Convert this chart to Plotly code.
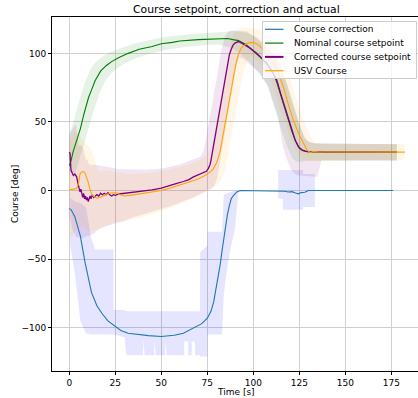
import numpy as np
import plotly.graph_objects as go

# ---------------- data ----------------
blue_t = [0, 1, 3, 6, 8.5, 10, 12, 15, 18, 21, 25, 28, 32, 37, 43, 50, 57, 62, 65, 68,
          72, 75, 77, 78.5, 80, 81, 82, 83, 84, 85, 86, 87, 88, 89, 90, 91, 93, 100, 110, 115,
          117, 119, 121, 123, 124.5, 126, 128, 130, 140, 160, 176]
blue_y = [-13, -14, -19, -33, -52, -62, -74, -84, -90, -95, -99, -102, -104, -105, -105.7, -106.4, -105.5, -104, -102, -100,
          -97, -93, -88, -81, -70, -62, -54, -44, -34, -25, -17, -11, -6, -4, -2.5, -1, 0, 0, 0, 0,
          -0.5, -1, -0.8, -1.8, -2.4, -1.5, -1.2, 0, 0, 0, 0]

green_t = [0, 1, 2, 4, 6, 8, 10.5, 12, 14, 17, 20, 23, 27, 32, 38, 45, 50, 56, 60, 70,
           82, 86, 89, 92, 96, 100, 104, 108, 111, 113, 115, 117, 119, 121, 123, 125, 127, 130, 140, 160, 178]
green_y = [18, 22, 28, 37, 45, 56, 68, 73, 80, 87, 91, 94, 97, 100, 103, 105, 107, 108, 109, 110,
           111, 110.8, 110, 109.3, 106.5, 102, 97, 91, 85, 78, 69, 60, 51, 43, 36, 31, 29, 28.3, 28, 28, 28]

purple_t = [0, 0.4, 0.9, 1.5, 2.2, 3, 4, 4.6, 5.2, 5.8, 6.3, 6.8, 7.3, 7.8, 8.3, 8.8, 9.3, 9.8, 10.3, 10.8,
            11.3, 11.8, 12.5, 13.2, 14, 15, 16, 17, 18, 19, 20, 21, 22, 23, 24, 25, 27, 30, 33, 36,
            40, 45, 50, 55, 58, 62, 65, 67.5, 70, 72, 74.5, 75.5, 76.5, 77, 77.5, 78, 78.5, 79, 79.5, 80,
            80.5, 81, 81.5, 82, 82.5, 83, 83.5, 84, 84.5, 85, 85.5, 86, 86.5, 87, 88, 89, 90, 91, 92, 93,
            95, 98, 101.8, 104, 107.3, 110, 112.7, 115, 118.2, 120.5, 122.7, 124.5, 126.3, 129, 132, 140, 160, 178]
purple_y = [28, 27, 15, 13, 11, 12, 10, 6, 2, -1, 1, -3, -5, -2, -6, -4, -7, -5, -8, -6,
            -4, -6, -3, -5, -4, -3, -4, -2, -3, -2, -3, -1.5, -3, -4, -3, -3.5, -2.5, -2, -2, -1,
            -0.5, 0.5, 1.7, 3.5, 5, 6.6, 8, 10, 11.5, 12.5, 14, 16, 19, 22, 26, 29, 33, 38, 41, 45,
            48, 51, 55, 60, 63, 68, 71, 76, 80, 85, 88, 92, 95, 99, 103, 106, 107.5, 108.3, 108.6, 108,
            106.5, 104, 100, 97, 92.9, 87.5, 80.7, 70, 56.4, 46, 37, 32, 29.7, 28.4, 28.3, 28, 28, 27.8]

orange_t = [0, 2, 4, 5, 5.8, 6.7, 7.6, 8.5, 9.4, 10.3, 11.2, 12, 13, 14, 15, 16.5, 18, 20, 22, 24,
            25.5, 27.5, 30, 33, 38, 45, 50, 55, 60, 65, 70, 73, 75.5, 77, 78.3, 80, 81.9, 83.5, 85.5, 87.5,
            89.1, 90.5, 91.8, 93.5, 95.5, 97, 99.1, 101, 103, 105.4, 108, 110.9, 113.5, 116.3, 119, 121.7, 124.5, 127.2, 129, 130.8,
            132.6, 135, 150, 165, 182.4]
orange_y = [0.5, 1, 1.5, 5, 12, 13.5, 13.9, 13, 10, 6, 1, -2, -4, -5, -5.6, -5, -4, -3, -2, -1.5,
            -1.5, -3, -4, -3.5, -2.5, -1.5, 0, 1.8, 4, 6, 8.5, 10.5, 12.7, 14, 16, 20, 28, 40, 54, 70,
            82, 92, 99, 104, 106.2, 107.5, 108, 107.5, 106, 102.6, 98, 92.9, 86, 75.8, 63, 51.5, 42, 34.5, 30, 27.7,
            28.4, 28.2, 28, 28, 28]

# spread (uncertainty band) of the correction series
blue_band_t = [0.5, 3, 6, 9, 12, 14, 24, 24.1, 30, 31, 40, 40.4, 40.9, 46, 46.4, 46.9, 52, 52.4, 52.9, 62.4,
               62.5, 64.6, 64.7, 66.5, 66.6, 68.3, 68.4, 71, 71.1, 75, 75.1, 83, 84, 86, 88, 90, 92]
blue_band_lo = [-40, -60, -95, -104, -105, -105, -105, -105, -107, -120, -120, -109, -120, -120, -110, -120, -120, -110, -120, -120,
                -110, -110, -120, -120, -110, -110, -120, -120, -121, -121, -105, -105, -75, -55, -40, -28, 0]
blue_band_hi = [-5, -8, -9, -12, -35, -43, -43, -87, -87, -88, -88, -88, -88, -88, -88, -88, -88, -88, -88, -88,
                -88, -88, -88, -88, -88, -88, -88, -88, -45, -40, -30, -30, -3, -2, -1, 0, 0]
blue_band2_t = [113.5, 116, 116.1, 127, 127.1, 133.5]
blue_band2_lo = [-6, -6, -14, -14, -12, -12]
blue_band2_hi = [15, 15, 15, 15, 12, 12]

# spreads for the other series
green_sp_t = [0, 10, 30, 80, 92, 110, 125, 130, 178]
green_sp_lo = [5, 6, 4, 4, 6, 8, 8, 6, 6]
green_sp_hi = [5, 6, 4, 4, 6, 8, 8, 6, 6]
purple_sp_t = [0, 3, 10, 25, 50, 74, 80, 88, 95, 110, 114, 116, 135, 137, 178]
purple_sp_lo = [30, 30, 25, 20, 14, 12, 12, 10, 8, 8, 8, 18, 18, 6, 6]
purple_sp_hi = [14, 20, 22, 18, 13, 10, 10, 8, 8, 8, 8, 6, 6, 6, 6]
orange_sp_t = [0, 3, 10, 25, 50, 75, 90, 100, 130, 182.4]
orange_sp_lo = [38, 30, 25, 20, 14, 10, 10, 8, 6, 6]
orange_sp_hi = [38, 30, 18, 15, 13, 10, 12, 10, 6, 6]

x_ticks = [0, 25, 50, 75, 100, 125, 150, 175]
y_ticks = [-100, -50, 0, 50, 100]
names = ["Course correction", "Nominal course setpoint", "Corrected course setpoint", "USV Course"]
colors = ["#1f77b4", "#008000", "#800080", "#FFA500"]

# ---------------- helpers ----------------
def envelope(t, y, delta, sp_t, sp_lo, sp_hi, step=0.25):
    t = np.asarray(t, float)
    y = np.asarray(y, float)
    g = np.arange(t[0], t[-1] + 1e-9, step)
    base = np.interp(g, t, y)
    k = int(round(delta / step))
    n = len(g)
    hi = np.array([base[max(0, i - k):min(n, i + k + 1)].max() for i in range(n)])
    lo = np.array([base[max(0, i - k):min(n, i + k + 1)].min() for i in range(n)])
    return g, lo - np.interp(g, sp_t, sp_lo), hi + np.interp(g, sp_t, sp_hi)


def band_trace(x, lo, hi, color):
    x = np.asarray(x, float)
    lo = np.asarray(lo, float)
    hi = np.asarray(hi, float)
    return go.Scatter(x=np.concatenate([x, x[::-1]]), y=np.concatenate([hi, lo[::-1]]),
                      fill="toself", fillcolor=color, line=dict(width=0), mode="lines",
                      hoverinfo="skip", showlegend=False)


fig = go.Figure()

# bands
fig.add_trace(band_trace(blue_band_t, blue_band_lo, blue_band_hi, "rgba(0,0,255,0.1)"))
fig.add_trace(band_trace(blue_band2_t, blue_band2_lo, blue_band2_hi, "rgba(0,0,255,0.1)"))
g, lo, hi = envelope(green_t, green_y, 3.5, green_sp_t, green_sp_lo, green_sp_hi)
fig.add_trace(band_trace(g, lo, hi, "rgba(0,128,0,0.1)"))
g, lo, hi = envelope(purple_t, purple_y, 3.5, purple_sp_t, purple_sp_lo, purple_sp_hi)
fig.add_trace(band_trace(g, lo, hi, "rgba(128,0,128,0.1)"))
g, lo, hi = envelope(orange_t, orange_y, 3.5, orange_sp_t, orange_sp_lo, orange_sp_hi)
fig.add_trace(band_trace(g, lo, hi, "rgba(255,165,0,0.1)"))

# lines
series = [(blue_t, blue_y, 1.1), (green_t, green_y, 1.1), (purple_t, purple_y, 1.3), (orange_t, orange_y, 1.1)]
for (t, y, w), nm, c in zip(series, names, colors):
    fig.add_trace(go.Scatter(x=t, y=y, mode="lines", name=nm, line=dict(color=c, width=w),
                             showlegend=False))

# ---------------- layout ----------------
L, R_PX, T, B = 52, 418, 17, 371
W = R_PX - L
H = B - T


def px(xp):
    return (xp - L) / W


def py(yp):
    return (B - yp) / H


font = "DejaVu Sans"
shapes = [dict(type="rect", xref="paper", yref="paper", x0=px(262.5), x1=px(416.5), y0=py(78.5), y1=py(21.5),
               fillcolor="rgba(255,255,255,0.8)", line=dict(color="#cccccc", width=1), layer="above")]
annotations = []
rows = [29.3, 43.1, 56.9, 70.7]
for i, (nm, c) in enumerate(zip(names, colors)):
    yy = py(rows[i])
    shapes.append(dict(type="line", xref="paper", yref="paper", x0=px(265), x1=px(283.5), y0=yy, y1=yy,
                       line=dict(color=c, width=2 if i == 2 else 1.2), layer="above"))
    annotations.append(dict(text=nm, xref="paper", yref="paper", x=px(291.5), y=yy, xanchor="left",
                            yanchor="middle", showarrow=False, font=dict(family=font, size=9, color="black")))

annotations.append(dict(text="Course setpoint, correction and actual", xref="paper", yref="paper",
                        x=px(236.5), y=py(9.5), xanchor="center", yanchor="middle", showarrow=False,
                        font=dict(family=font, size=10.8, color="black")))
annotations.append(dict(text="Time [s]", xref="paper", yref="paper", x=px(236.5), y=py(392),
                        xanchor="center", yanchor="middle", showarrow=False,
                        font=dict(family=font, size=9, color="black")))
annotations.append(dict(text="Course [deg]", xref="paper", yref="paper", x=px(15), y=0.5, textangle=-90,
                        xanchor="center", yanchor="middle", showarrow=False,
                        font=dict(family=font, size=9, color="black")))

x0 = -9.4
x1 = x0 + W / 1.84
y1 = 126.5
y0 = y1 - H / 1.372

fig.update_layout(
    width=418, height=398, autosize=False,
    margin=dict(l=L, r=0, t=T, b=398 - B, pad=0),
    paper_bgcolor="white", plot_bgcolor="white",
    font=dict(family=font, size=9, color="black"),
    showlegend=False,
    shapes=shapes, annotations=annotations,
    xaxis=dict(range=[x0, x1], tickvals=x_ticks, showgrid=True, gridcolor="#d0d0d0", gridwidth=1,
               zeroline=False, ticks="outside", ticklen=3, tickwidth=1, tickcolor="black",
               showline=True, linecolor="black", linewidth=1, mirror=True,
               tickfont=dict(family=font, size=9, color="black")),
    yaxis=dict(range=[y0, y1], tickvals=y_ticks, showgrid=True, gridcolor="#d0d0d0", gridwidth=1,
               zeroline=False, ticks="outside", ticklen=3, tickwidth=1, tickcolor="black",
               showline=True, linecolor="black", linewidth=1, mirror=False,
               tickfont=dict(family=font, size=9, color="black")),
)

fig.write_html("out.html")
